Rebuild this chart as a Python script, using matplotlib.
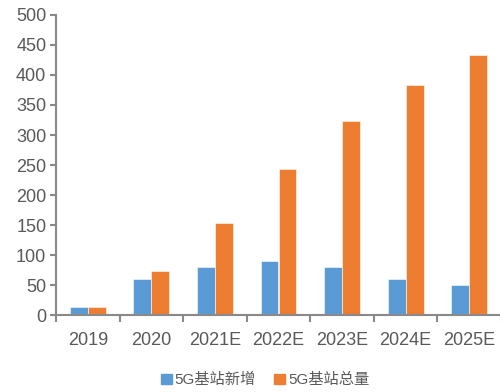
import numpy as np
import matplotlib.pyplot as plt
from matplotlib.patches import Patch

plt.rcParams['font.family'] = ['Liberation Sans', 'Noto Sans CJK SC', 'DejaVu Sans']

years = ['2019', '2020', '2021E', '2022E', '2023E', '2024E', '2025E']
new_sites = [13, 60, 80, 90, 80, 60, 50]
total_sites = [13, 73, 153, 243, 323, 383, 433]
series_names = ['5G基站新增', '5G基站总量']

blue = '#5B9BD5'
orange = '#ED7D31'
grey = '#595959'
axis_grey = '#898989'

fig = plt.figure(figsize=(5.0, 3.92), dpi=100)
ax = fig.add_axes([0.112, 0.196, 0.89, 0.766])

x = np.arange(len(years))
w = 0.283
ax.bar(x - w / 2, new_sites, w, color=blue, edgecolor='white', linewidth=0.4)
ax.bar(x + w / 2, total_sites, w, color=orange, edgecolor='white', linewidth=0.4)

ax.set_xlim(-0.5, len(years) - 0.5)
ax.set_ylim(0, 500)
ax.set_yticks(np.arange(0, 501, 50))

# category labels centred, tick marks sit between the categories
ax.set_xticks(x)
ax.set_xticklabels(years)
ax.set_xticks(np.arange(-0.5, len(years), 1.0), minor=True)
ax.tick_params(axis='x', which='major', length=0, pad=12, labelsize=13, labelcolor=grey)
ax.tick_params(axis='x', which='minor', length=5, width=1.5, color=axis_grey)
ax.tick_params(axis='y', length=4, width=1.5, color=axis_grey, labelsize=13,
               labelcolor=grey, pad=3)

for side in ['top', 'right']:
    ax.spines[side].set_visible(False)
for side in ['left', 'bottom']:
    ax.spines[side].set_color(axis_grey)
    ax.spines[side].set_linewidth(1.5)

handles = [Patch(color=blue), Patch(color=orange)]
fig.legend(handles, series_names, loc='center', bbox_to_anchor=(0.53, 0.03),
           ncol=2, frameon=False, fontsize=11, labelcolor=grey,
           handlelength=0.7, handleheight=0.7, handletextpad=0.2, columnspacing=1.2)

fig.savefig('out.png', dpi=100)
plt.close(fig)
